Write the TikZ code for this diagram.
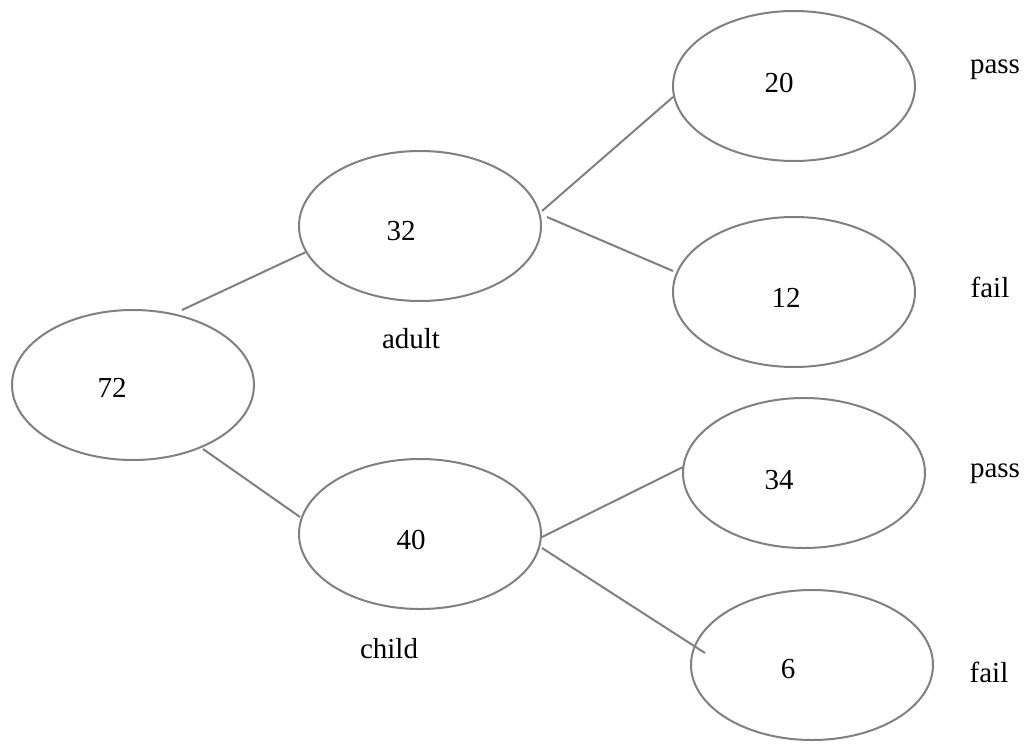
\documentclass[tikz,border=0pt]{standalone}
\usepackage{fontspec}
\setmainfont{Liberation Serif}
\usetikzlibrary{shapes.geometric}
\begin{document}
\begin{tikzpicture}[x=1pt,y=-1pt,
  oval/.style={draw=linegray,line width=2pt,ellipse,minimum width=242pt,minimum height=150pt,inner sep=0pt},
  txt/.style={anchor=base,inner sep=0pt,font=\fontsize{29}{34}\selectfont},
  conn/.style={draw=linegray,line width=2pt}]
\definecolor{linegray}{RGB}{128,128,128}
\useasboundingbox (0,0) rectangle (1034,747);
% ellipses
\node[oval] (n72) at (133,385) {};
\node[oval] (n32) at (420,226) {};
\node[oval] (n40) at (420,534) {};
\node[oval] (n20) at (794,86) {};
\node[oval] (n12) at (794,292) {};
\node[oval] (n34) at (804,473) {};
\node[oval] (n6) at (812,665) {};
% numbers
\node[txt] (t72) at (112,397) {72};
\node[txt] (t32) at (401,240) {32};
\node[txt] (t40) at (411,549) {40};
\node[txt] (t20) at (779,92) {20};
\node[txt] (t12) at (786,307) {12};
\node[txt] (t34) at (779,489) {34};
\node[txt] (t6) at (788,678) {6};
% labels
\node[txt] (ladult) at (411,348) {adult};
\node[txt] (lchild) at (389,658) {child};
\node[txt] (lp1) at (995,73) {pass};
\node[txt] (lf1) at (990,297) {fail};
\node[txt] (lp2) at (995,477) {pass};
\node[txt] (lf2) at (989,682) {fail};
% connector end points
\coordinate (a1) at (182,310); \coordinate (a2) at (306,252);
\coordinate (b1) at (203,449); \coordinate (b2) at (300,517);
\coordinate (c1) at (542,211); \coordinate (c2) at (673,97);
\coordinate (d1) at (547,217); \coordinate (d2) at (673,271);
\coordinate (e1) at (542,537); \coordinate (e2) at (683,467);
\coordinate (f1) at (542,548); \coordinate (f2) at (705,653);
\draw[conn] (a1) -- (a2);
\draw[conn] (b1) -- (b2);
\draw[conn] (c1) -- (c2);
\draw[conn] (d1) -- (d2);
\draw[conn] (e1) -- (e2);
\draw[conn] (f1) -- (f2);
\end{tikzpicture}
\end{document}
